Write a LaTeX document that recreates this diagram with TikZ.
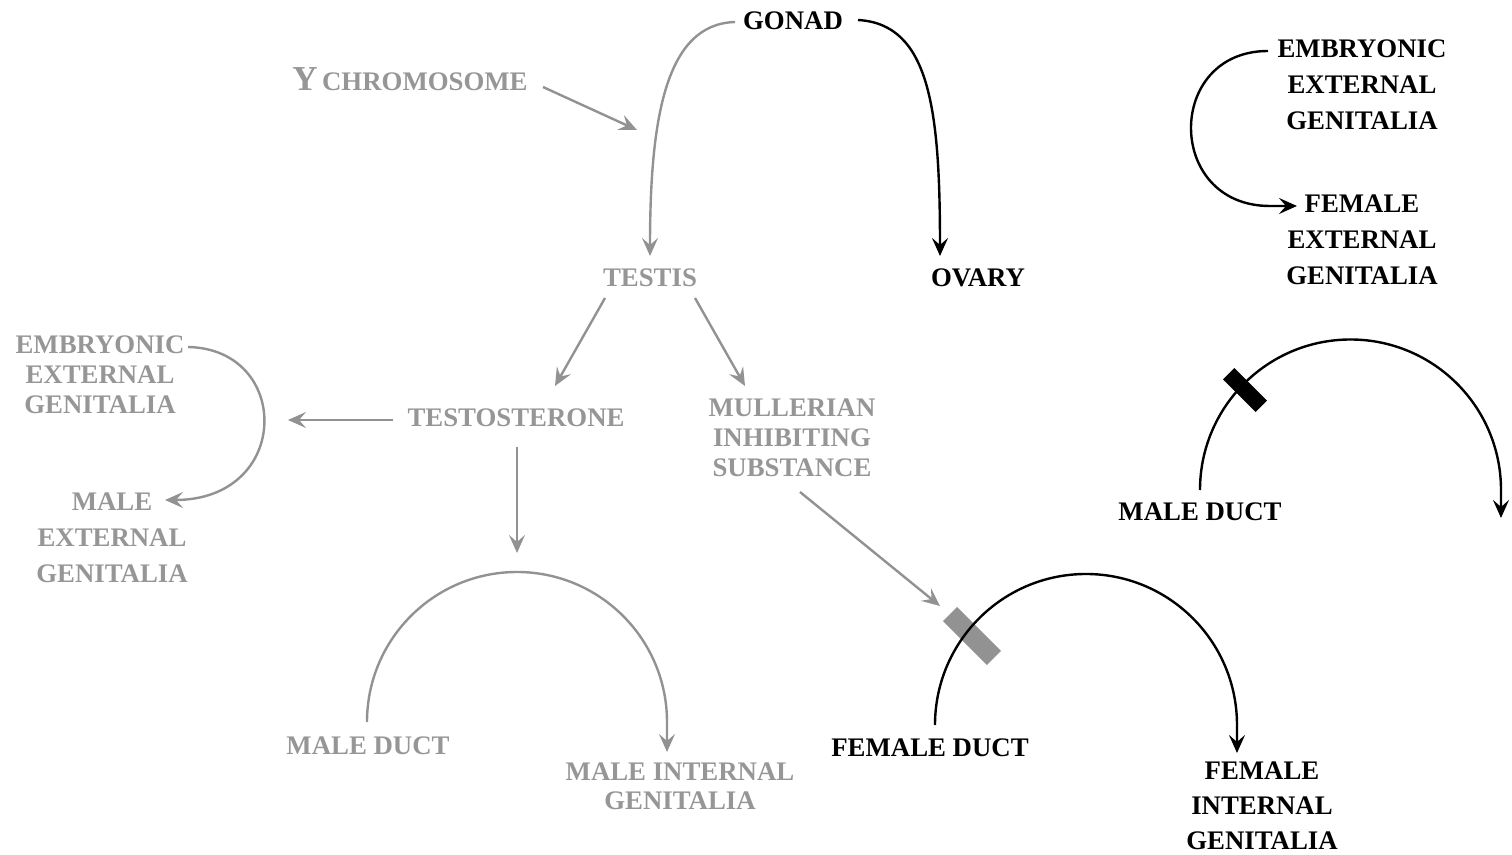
\documentclass[tikz,border=0pt]{standalone}
\usepackage{fontspec}
\setmainfont{Liberation Serif}
\usetikzlibrary{arrows.meta}
\definecolor{lg}{RGB}{146,146,146}
\definecolor{lgt}{RGB}{150,150,150}
\begin{document}
\begin{tikzpicture}[x=0.5pt,y=-0.5pt,
  lbl/.style={font=\fontsize{13.4}{18}\selectfont\bfseries, align=center, inner sep=0pt},
  tight/.style={font=\fontsize{13.4}{15}\selectfont\bfseries},
  glbl/.style={lbl,text=lgt},
  blbl/.style={lbl,text=black},
  tipg/.style={-{Stealth[length=9pt,width=8pt,inset=3.5pt]}},
  garr/.style={draw=lg, line width=1.2pt, tipg},
  barr/.style={draw=black, line width=1.2pt, tipg},
  blocker/.style={inner sep=0pt, draw=none}
]
\useasboundingbox (0,0) rectangle (1512,855);

% labels
\node[blbl] (gonad) at (793,21) {GONAD};
\node[glbl, anchor=base] (ychr) at (410,91) {{\fontsize{17.5}{18}\selectfont Y}\,CHROMOSOME};
\node[glbl] (testis) at (650,278) {TESTIS};
\node[blbl] (ovary) at (978,278) {OVARY};
\node[glbl] (testo) at (516,418) {TESTOSTERONE};
\node[glbl, tight] (mis) at (792,438) {MULLERIAN\\INHIBITING\\SUBSTANCE};
\node[glbl, tight] (eeg) at (100,375) {EMBRYONIC\\EXTERNAL\\GENITALIA};
\node[glbl] (meg) at (112,538) {MALE\\EXTERNAL\\GENITALIA};
\node[glbl] (mduct) at (368,746) {MALE DUCT};
\node[glbl, font=\fontsize{13.4}{14.5}\selectfont\bfseries] (mig) at (680,786) {MALE INTERNAL\\GENITALIA};
\node[blbl] (fduct) at (930,748) {FEMALE DUCT};
\node[blbl, font=\fontsize{13.4}{17.5}\selectfont\bfseries] (fig) at (1262,806) {FEMALE\\INTERNAL\\GENITALIA};
\node[blbl] (mduct2) at (1200,512) {MALE DUCT};
\node[blbl] (eeg2) at (1362,85) {EMBRYONIC\\EXTERNAL\\GENITALIA};
\node[blbl] (feg2) at (1362,240) {FEMALE\\EXTERNAL\\GENITALIA};

% connector end points
\coordinate (gL) at (735,22);
\coordinate (gR) at (858,20);
\coordinate (tT) at (650,256);
\coordinate (oT) at (940,256);
\coordinate (yS) at (543,87);
\coordinate (yE) at (637,130);
\coordinate (tsL) at (605,298);
\coordinate (tsR) at (695,298);
\coordinate (teT) at (555,386);
\coordinate (miT) at (745,386);
\coordinate (teL) at (393,420);
\coordinate (eaE) at (288,420);
\coordinate (teB) at (517,447);
\coordinate (teD) at (517,553);
\coordinate (eS) at (188,347);
\coordinate (eE) at (165,500);
\coordinate (mdL) at (367,722);
\coordinate (mdE) at (667,752);
\coordinate (miB) at (800,492);
\coordinate (miE) at (940,606);
\coordinate (fdL) at (935,725);
\coordinate (fdE) at (1237,753);
\coordinate (rdL) at (1200,490);
\coordinate (rdE) at (1501,518);
\coordinate (e2S) at (1268,51);
\coordinate (e2E) at (1297,206);

% gray connectors
\draw[garr] (gL) .. controls (665,24) and (650,120) .. (tT);
\draw[garr] (yS) -- (yE);
\draw[garr] (tsL) -- (teT);
\draw[garr] (tsR) -- (miT);
\draw[garr] (teL) -- (eaE);
\draw[garr] (teB) -- (teD);
\draw[garr] (eS) .. controls (292,349) and (292,500) .. (eE);
\draw[garr] (mdL) arc[start angle=180, end angle=360, radius=150] -- (mdE);
\draw[garr] (miB) -- (miE);

% blocker bars
\node[blocker, fill=lg, minimum width=31pt, minimum height=10pt, rotate=-45] (bar1) at (972,636) {};

% black connectors
\draw[barr] (gR) .. controls (930,24) and (940,110) .. (oT);
\draw[barr] (fdL) arc[start angle=180, end angle=360, radius=151] -- (fdE);
\draw[barr] (rdL) arc[start angle=180, end angle=360, radius=150.5] -- (rdE);
\draw[barr] (e2S) .. controls (1165,51) and (1165,206) .. (1270,206) -- (e2E);

\node[blocker, fill=black, minimum width=23pt, minimum height=8pt, rotate=-45] (bar2) at (1245,390) {};
\end{tikzpicture}
\end{document}
